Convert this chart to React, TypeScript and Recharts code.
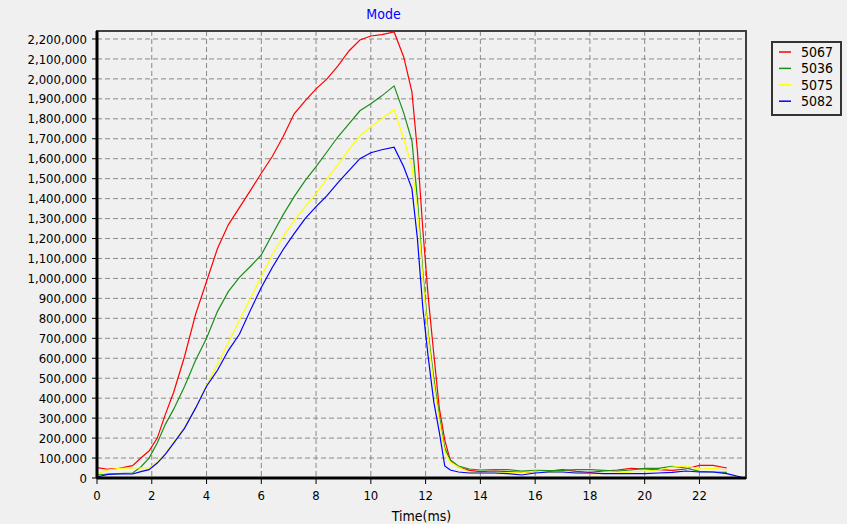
import React from 'react';
import { LineChart, Line, XAxis, YAxis, CartesianGrid, ReferenceArea } from 'recharts';

const TIMES = [0, 0.4, 0.8, 1.3, 1.6, 1.9, 2.2, 2.5, 2.8, 3.2, 3.6, 4.0, 4.4, 4.8, 5.2, 5.6, 6.0, 6.4, 6.8, 7.2, 7.6, 8.0, 8.4, 8.8, 9.2, 9.6, 10.0, 10.4, 10.85, 11.2, 11.5, 11.7, 11.9, 12.1, 12.3, 12.5, 12.7, 12.9, 13.2, 13.6, 14.0, 14.5, 15.0, 15.5, 16.0, 16.5, 17.0, 17.5, 18.0, 18.5, 19.0, 19.5, 20.0, 20.5, 21.0, 21.5, 22.0, 22.5, 23.0, 23.65];

// values in thousands
const S5067 = [52, 44, 48, 62, 100, 135, 200, 320, 430, 610, 820, 985, 1150, 1270, 1355, 1440, 1527, 1611, 1711, 1825, 1890, 1950, 2000, 2065, 2140, 2195, 2215, 2222, 2235, 2110, 1935, 1640, 1243, 900, 620, 350, 190, 90, 55, 38, 32, 35, 32, 28, 33, 35, 42, 33, 28, 35, 40, 48, 45, 42, 38, 45, 63, 63, 50, null];
const S5036 = [15, 20, 22, 25, 55, 100, 175, 270, 345, 460, 590, 700, 835, 935, 1005, 1060, 1118, 1220, 1320, 1410, 1490, 1560, 1635, 1710, 1775, 1840, 1875, 1915, 1965, 1830, 1690, 1400, 1030, 720, 500, 310, 150, 90, 60, 45, 40, 42, 42, 35, 38, 37, 38, 42, 42, 38, 35, 40, 48, 48, 58, 50, 33, 30, 28, null];
const S5075 = [20, 40, 48, 50, 50, 50, 80, 125, 180, 255, 350, 465, 570, 680, 790, 900, 1009, 1120, 1210, 1290, 1360, 1425, 1500, 1570, 1645, 1715, 1760, 1800, 1845, 1700, 1560, 1350, 1000, 700, 470, 290, 130, 80, 55, 28, 25, 25, 27, 26, 35, 28, 25, 25, 22, 22, 25, 30, 35, 40, 55, 60, 45, 48, 40, null];
const S5082 = [5, 18, 20, 20, 32, 42, 75, 120, 175, 250, 350, 460, 540, 640, 720, 840, 955, 1055, 1145, 1225, 1300, 1360, 1415, 1480, 1540, 1600, 1630, 1645, 1658, 1560, 1450, 1200, 850, 600, 380, 230, 60, 40, 30, 25, 25, 25, 22, 15, 25, 30, 30, 25, 25, 22, 22, 22, 22, 25, 28, 35, 30, 30, 22, 0];

const SERIES_NAMES = ['5067', '5036', '5075', '5082'];
const SERIES_VALUES = [S5067, S5036, S5075, S5082];
const SERIES_COLORS = ['#ff0000', '#1a8f1a', '#ffff00', '#0000ff'];

const X_TICKS = [0, 2, 4, 6, 8, 10, 12, 14, 16, 18, 20, 22];
const X_MINOR_TICKS = Array.from({ length: 48 }, (_, i) => i * 0.5);
const Y_TICKS = Array.from({ length: 23 }, (_, i) => i * 100000);

const data = TIMES.map((t, i) => {
  const row: Record<string, number | null> = { t };
  SERIES_NAMES.forEach((n, k) => {
    const v = SERIES_VALUES[k][i];
    row['s' + n] = v == null ? null : v * 1000;
  });
  return row;
});

const FONT = "'DejaVu Sans Condensed', 'DejaVu Sans', sans-serif";

export default function App() {
  return (
    <div style={{ position: 'absolute', left: 0, top: 0, width: 847, height: 524, background: '#f0f0f0', fontFamily: FONT }}>
      <div style={{ position: 'absolute', left: 0, top: 6, width: 767, textAlign: 'center', color: '#0000ff', fontSize: 14, lineHeight: '16px' }}>Mode</div>
      <LineChart width={847} height={524} data={data} margin={{ top: 31, right: 101, bottom: 0, left: 0 }}>
        <CartesianGrid stroke="#888888" strokeDasharray="5 3" />
        <XAxis
          xAxisId="minor"
          dataKey="t"
          type="number"
          domain={[0, 23.7]}
          ticks={X_MINOR_TICKS}
          height={0}
          axisLine={false}
          tickSize={3}
          tickLine={{ stroke: '#000' }}
          tickFormatter={() => ''}
        />
        <XAxis
          dataKey="t"
          type="number"
          domain={[0, 23.7]}
          ticks={X_TICKS}
          height={46}
          axisLine={{ stroke: '#000', strokeWidth: 3 }}
          tickLine={{ stroke: '#000' }}
          tickSize={6}
          tickMargin={7}
          tick={{ fill: '#000', fontSize: 13, fontFamily: FONT }}
          label={{ value: 'Time(ms)', position: 'insideBottom', offset: 3, fill: '#000', fontSize: 14, fontFamily: FONT }}
        />
        <YAxis
          type="number"
          domain={[0, 2240000]}
          ticks={Y_TICKS}
          width={97}
          interval={0}
          axisLine={{ stroke: '#000', strokeWidth: 3 }}
          tickLine={{ stroke: '#000' }}
          tickSize={5}
          tickMargin={5}
          tick={{ fill: '#000', fontSize: 13, fontFamily: FONT }}
          tickFormatter={(v: number) => v.toLocaleString('en-US')}
        />
        <ReferenceArea x1={0} x2={23.7} y1={0} y2={2240000} fill="none" stroke="#404040" strokeWidth={2} ifOverflow="visible" />
        {SERIES_NAMES.map((n, k) => (
          <Line
            key={n}
            dataKey={'s' + n}
            name={n}
            stroke={SERIES_COLORS[k]}
            strokeWidth={1.2}
            dot={false}
            isAnimationActive={false}
            connectNulls={false}
            type="linear"
          />
        ))}
      </LineChart>
      <div style={{ position: 'absolute', left: 771, top: 41, width: 71, height: 75, boxSizing: 'border-box', border: '2px solid #333', background: '#f0f0f0' }}>
        <svg width={67} height={71} style={{ display: 'block' }}>
          {SERIES_NAMES.map((n, k) => (
            <g key={n}>
              <line x1={6} x2={18} y1={9 + k * 16.4} y2={9 + k * 16.4} stroke={SERIES_COLORS[k]} strokeWidth={1.5} />
              <text x={28} y={9 + k * 16.4} dy="0.36em" fontSize={14} fontFamily={FONT} fill="#000">{n}</text>
            </g>
          ))}
        </svg>
      </div>
    </div>
  );
}
